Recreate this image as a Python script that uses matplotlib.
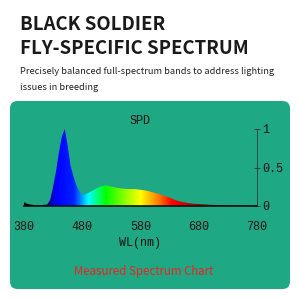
import numpy as np
import matplotlib.pyplot as plt
from matplotlib.colors import LinearSegmentedColormap
from matplotlib.patches import FancyBboxPatch

# spectrum (wavelength nm, relative power)
wl = [380, 385, 390, 400, 410, 415, 420, 425, 430, 435, 440, 445, 450, 455,
      460, 465, 470, 475, 480, 485, 490, 500, 510, 520, 530, 540, 550, 560,
      570, 580, 590, 600, 610, 620, 630, 640, 650, 660, 670, 680, 690, 700,
      720, 740, 760, 780]
spd = [0.05, 0.03, 0.02, 0.01, 0.01, 0.015, 0.02, 0.08, 0.25, 0.45, 0.70, 0.90,
       1.00, 0.78, 0.52, 0.38, 0.27, 0.19, 0.15, 0.15, 0.17, 0.21, 0.25, 0.27,
       0.25, 0.235, 0.225, 0.22, 0.22, 0.21, 0.20, 0.18, 0.16, 0.135, 0.11,
       0.075, 0.055, 0.04, 0.03, 0.025, 0.02, 0.015, 0.01, 0.005, 0.003, 0.0]

x_ticks = [380, 480, 580, 680, 780]
y_ticks = [0, 0.5, 1]
y_labels = ['0', '0.5', '1']

# wavelength -> colour stops
stops = [(380, '#000000'), (410, '#000010'), (425, '#0000b0'), (435, '#0000ff'),
         (465, '#0020ff'), (490, '#00ffff'), (520, '#00ff00'), (580, '#ffff00'),
         (610, '#ff8000'), (635, '#ff0000'), (680, '#a00000'), (730, '#200000'),
         (780, '#000000')]

panel = '#1ea883'

fig = plt.figure(figsize=(3, 3), dpi=100)
fig.patch.set_facecolor('white')

fig.add_artist(FancyBboxPatch((10/300, 11/300), 280/300, 188/300,
                              boxstyle='round,pad=0,rounding_size=0.025',
                              transform=fig.transFigure, facecolor=panel,
                              edgecolor='none', zorder=-1))

fig.text(20/300, 1 - 25/300, 'BLACK SOLDIER', fontsize=13.4, fontweight='bold',
         family='Noto Sans CJK SC', color='#1a1a1a', va='center')
fig.text(20/300, 1 - 48/300, 'FLY-SPECIFIC SPECTRUM', fontsize=13.4, fontweight='bold',
         family='Noto Sans CJK SC', color='#1a1a1a', va='center')
fig.text(20/300, 1 - 71/300, 'Precisely balanced full-spectrum bands to address lighting',
         fontsize=6.7, family='Noto Sans CJK SC', color='#222222', va='center')
fig.text(20/300, 1 - 87/300, 'issues in breeding',
         fontsize=6.7, family='Noto Sans CJK SC', color='#222222', va='center')

ax = fig.add_axes([24/300, 1 - 206/300, 233/300, 77/300])
ax.set_facecolor('none')
ax.set_xlim(380, 780)
ax.set_ylim(0, 1)

cmap = LinearSegmentedColormap.from_list(
    'wl', [((w - 380) / 400, c) for w, c in stops])
grad = np.linspace(0, 1, 400).reshape(1, -1)
img = ax.imshow(grad, cmap=cmap, extent=[380, 780, 0, 1], aspect='auto',
                origin='lower', zorder=1)
poly = ax.fill_between(wl, spd, 0, color='none')
img.set_clip_path(poly.get_paths()[0], transform=ax.transData)

for s in ['top', 'left']:
    ax.spines[s].set_visible(False)
ax.spines['bottom'].set_color('#111111')
ax.spines['bottom'].set_linewidth(1.2)
ax.spines['right'].set_color('#333333')
ax.spines['right'].set_linewidth(0.6)

mono = 'Liberation Mono'
ax.set_xticks(x_ticks)
ax.set_xticklabels([str(t) for t in x_ticks], family=mono, fontsize=8.5, color='#111111')
ax.tick_params(axis='x', length=0, pad=11)
ax.yaxis.tick_right()
ax.set_yticks(y_ticks)
ax.set_yticklabels(y_labels, family=mono, fontsize=8.5, color='#111111')
ax.tick_params(axis='y', direction='inout', length=4, width=0.6, color='#333333', pad=2)

fig.text(140/300, 1 - 121/300, 'SPD', family=mono, fontsize=8.5, color='#111111',
         ha='center', va='center')
fig.text(140/300, 1 - 243/300, 'WL(nm)', family=mono, fontsize=8.5, color='#111111',
         ha='center', va='center')
fig.text(144/300, 1 - 271/300, 'Measured Spectrum Chart', family='Noto Sans CJK SC',
         fontsize=8.3, color='#ee2222', ha='center', va='center')

fig.savefig('out.png', dpi=100, facecolor='white')
